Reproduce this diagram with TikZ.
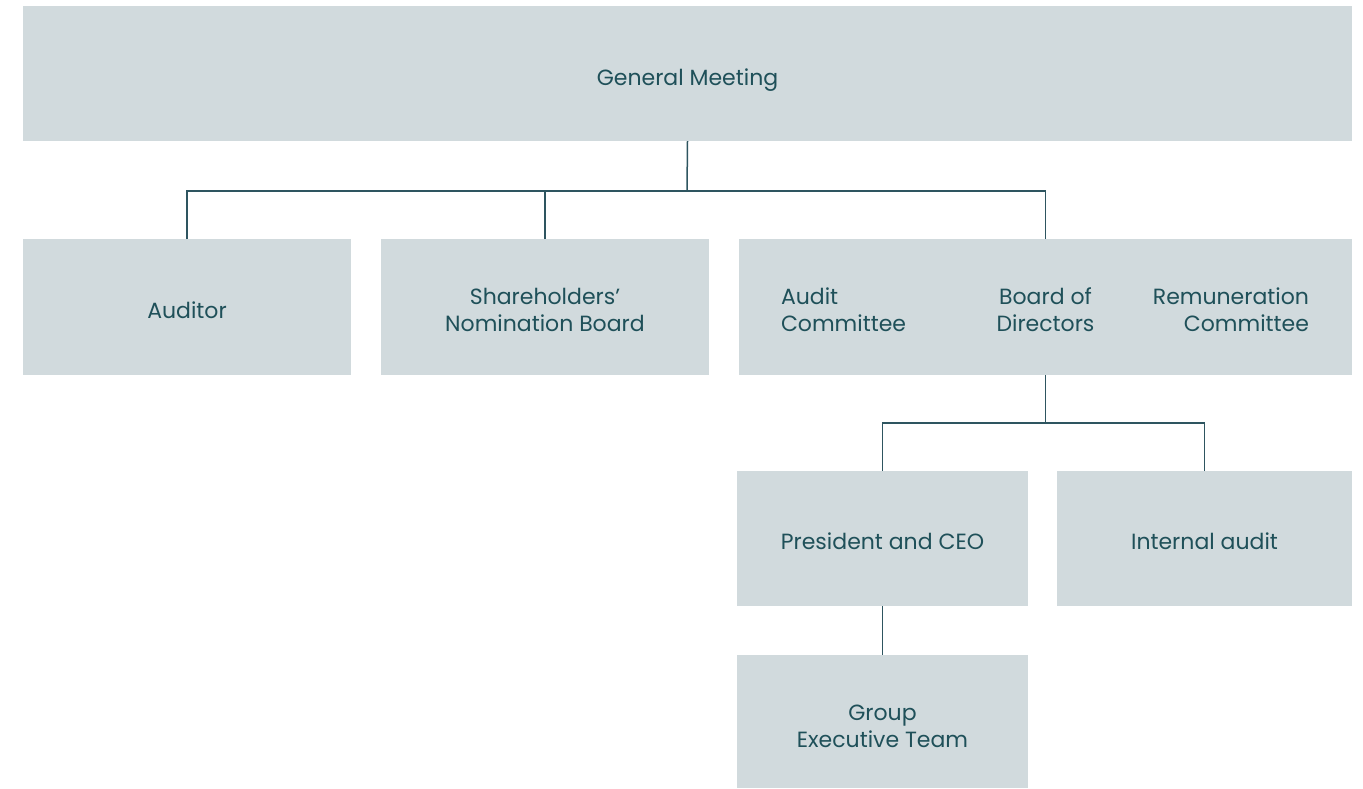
\documentclass[tikz,border=0pt]{standalone}
\usepackage{fontspec}
\setmainfont{Poppins}
\definecolor{boxfill}{HTML}{D1DADD}
\definecolor{txt}{HTML}{1F5059}
\definecolor{ln}{HTML}{2E5560}
\begin{document}
\begin{tikzpicture}[x=1pt,y=-1pt,
  box/.style={fill=boxfill,draw=none,inner sep=0pt,outer sep=0pt},
  lbl/.style={inner sep=0pt,outer sep=0pt,text=txt,align=center,
    font=\fontsize{22}{27}\selectfont},
  conn/.style={draw=ln,line width=1.5pt}]
\useasboundingbox (0,0) rectangle (1363,788);
\fill[white] (0,0) rectangle (1363,788);
% boxes
\node[box,minimum width=1329pt,minimum height=135pt] (gm) at (687.5,73.5) {};
\node[box,minimum width=328pt,minimum height=136pt] (aud) at (187,307) {};
\node[box,minimum width=328pt,minimum height=136pt] (snb) at (545,307) {};
\node[box,minimum width=613pt,minimum height=136pt] (bod) at (1045.5,307) {};
\node[box,minimum width=291pt,minimum height=135pt] (ceo) at (882.5,538.5) {};
\node[box,minimum width=295pt,minimum height=135pt] (ia) at (1204.5,538.5) {};
\node[box,minimum width=291pt,minimum height=133pt] (get) at (882.5,721.5) {};
% texts
\node[lbl] (gmt) at (687.5,80) {General Meeting};
\node[lbl] (audt) at (187,310) {Auditor};
\node[lbl] (snbt) at (545,310) {Shareholders’\\Nomination Board};
\node[lbl] (bodt) at (1045.5,310) {Board of\\Directors};
\node[lbl,align=left,anchor=west] (ac) at (781,310) {Audit\\Committee};
\node[lbl,align=right,anchor=east] (rc) at (1309,310) {Remuneration\\Committee};
\node[lbl] (ceot) at (882.5,541) {President and CEO};
\node[lbl] (iat) at (1204.5,541) {Internal audit};
\node[lbl] (gett) at (882.5,726) {Group\\Executive Team};
% junctions
\coordinate (j1) at (687,191);
\coordinate (j2) at (1045.5,423);
% connectors
\draw[conn] (gm.south) -- (j1);
\draw[conn] (aud.north) |- (j1);
\draw[conn] (snb.north) -- (snb.north |- j1);
\draw[conn] (bod.north) |- (j1);
\draw[conn] (bod.south) -- (j2);
\draw[conn] (ceo.north) |- (j2);
\draw[conn] (ia.north) |- (j2);
\draw[conn] (ceo.south) -- (get.north);
\end{tikzpicture}
\end{document}
